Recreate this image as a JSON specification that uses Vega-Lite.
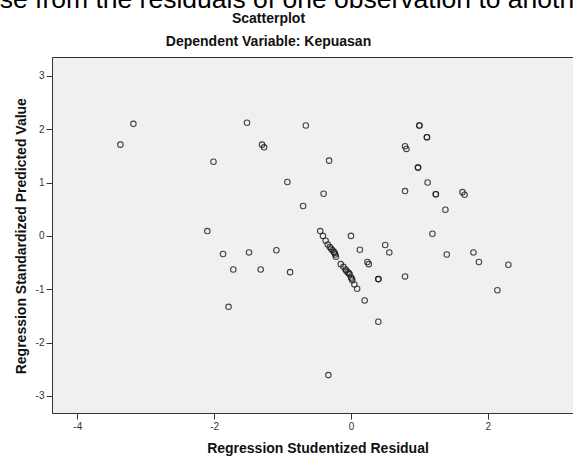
{
  "$schema": "https://vega.github.io/schema/vega-lite/v6.json",
  "width": 521,
  "height": 356,
  "autosize": "none",
  "padding": {"left": 52, "top": 57, "right": 0, "bottom": 43},
  "background": "white",
  "config": {
    "view": {"fill": "#f0f0f0", "stroke": null},
    "font": "Liberation Sans",
    "axis": {
      "grid": false,
      "domainColor": "#333333",
      "domainWidth": 1,
      "tickColor": "#333333",
      "tickSize": 6,
      "labelFont": "Liberation Sans",
      "labelFontSize": 10,
      "labelColor": "#333333",
      "labelPadding": 2,
      "titleFont": "Liberation Sans",
      "titleFontSize": 14,
      "titleFontWeight": "bold",
      "titleColor": "#111111"
    }
  },
  "title": {
    "text": "fause from the residuals of one observation to anoth",
    "font": "Liberation Sans",
    "fontSize": 26.5,
    "fontWeight": "normal",
    "color": "#000000",
    "anchor": "middle",
    "frame": "group",
    "dx": -44,
    "offset": 8,
    "subtitle": ["Scatterplot", "Dependent Variable: Kepuasan"],
    "subtitleFont": "Liberation Sans",
    "subtitleFontSize": 14,
    "subtitleFontWeight": "bold",
    "subtitleColor": "#111111",
    "subtitleLineHeight": 23,
    "subtitlePadding": -1
  },
  "data": {
    "values": [
      {"residual": -3.18, "predicted": 2.10},
      {"residual": -3.37, "predicted": 1.71},
      {"residual": -2.01, "predicted": 1.39},
      {"residual": -1.52, "predicted": 2.12},
      {"residual": -1.30, "predicted": 1.71},
      {"residual": -1.27, "predicted": 1.66},
      {"residual": -0.93, "predicted": 1.01},
      {"residual": -2.10, "predicted": 0.09},
      {"residual": -1.87, "predicted": -0.34},
      {"residual": -1.49, "predicted": -0.31},
      {"residual": -1.09, "predicted": -0.27},
      {"residual": -1.72, "predicted": -0.63},
      {"residual": -1.32, "predicted": -0.63},
      {"residual": -0.89, "predicted": -0.68},
      {"residual": -1.79, "predicted": -1.33},
      {"residual": -0.66, "predicted": 2.07},
      {"residual": -0.32, "predicted": 1.41},
      {"residual": -0.40, "predicted": 0.79},
      {"residual": -0.70, "predicted": 0.56},
      {"residual": 0.00, "predicted": 0.00},
      {"residual": 1.00, "predicted": 2.07},
      {"residual": 1.00, "predicted": 2.07},
      {"residual": 1.11, "predicted": 1.85},
      {"residual": 1.11, "predicted": 1.85},
      {"residual": 0.79, "predicted": 1.68},
      {"residual": 0.81, "predicted": 1.63},
      {"residual": 0.98, "predicted": 1.28},
      {"residual": 0.98, "predicted": 1.28},
      {"residual": 1.12, "predicted": 1.00},
      {"residual": 0.79, "predicted": 0.84},
      {"residual": 1.24, "predicted": 0.78},
      {"residual": 1.24, "predicted": 0.78},
      {"residual": 1.63, "predicted": 0.82},
      {"residual": 1.66, "predicted": 0.77},
      {"residual": 1.38, "predicted": 0.49},
      {"residual": 1.19, "predicted": 0.04},
      {"residual": 0.13, "predicted": -0.26},
      {"residual": 0.50, "predicted": -0.17},
      {"residual": 0.56, "predicted": -0.31},
      {"residual": 1.40, "predicted": -0.35},
      {"residual": 1.79, "predicted": -0.31},
      {"residual": 1.87, "predicted": -0.49},
      {"residual": 2.30, "predicted": -0.54},
      {"residual": 2.14, "predicted": -1.02},
      {"residual": 0.79, "predicted": -0.76},
      {"residual": 0.40, "predicted": -0.81},
      {"residual": 0.40, "predicted": -0.81},
      {"residual": 0.24, "predicted": -0.49},
      {"residual": 0.26, "predicted": -0.53},
      {"residual": 0.20, "predicted": -1.21},
      {"residual": 0.40, "predicted": -1.61},
      {"residual": -0.33, "predicted": -2.61},
      {"residual": -0.45, "predicted": 0.09},
      {"residual": -0.41, "predicted": 0.00},
      {"residual": -0.37, "predicted": -0.09},
      {"residual": -0.34, "predicted": -0.16},
      {"residual": -0.31, "predicted": -0.21},
      {"residual": -0.29, "predicted": -0.24},
      {"residual": -0.27, "predicted": -0.27},
      {"residual": -0.25, "predicted": -0.30},
      {"residual": -0.24, "predicted": -0.32},
      {"residual": -0.23, "predicted": -0.35},
      {"residual": -0.22, "predicted": -0.39},
      {"residual": -0.15, "predicted": -0.53},
      {"residual": -0.11, "predicted": -0.58},
      {"residual": -0.08, "predicted": -0.63},
      {"residual": -0.07, "predicted": -0.65},
      {"residual": -0.05, "predicted": -0.68},
      {"residual": -0.03, "predicted": -0.70},
      {"residual": -0.02, "predicted": -0.72},
      {"residual": 0.00, "predicted": -0.78},
      {"residual": 0.01, "predicted": -0.80},
      {"residual": 0.02, "predicted": -0.83},
      {"residual": 0.05, "predicted": -0.91},
      {"residual": 0.09, "predicted": -0.99}
    ]
  },
  "layer": [
    {
      "mark": {"type": "point", "shape": "circle", "filled": false, "size": 30, "stroke": "#1a1a1a", "strokeWidth": 1.1, "opacity": 0.8},
      "encoding": {
        "x": {
          "field": "residual", "type": "quantitative",
          "scale": {"domain": [-4.37, 3.245], "nice": false, "zero": false},
          "axis": {"orient": "bottom", "values": [-4, -2, 0, 2], "format": "d", "labelExpr": "replace(datum.label, '\u2212', '-')", "title": "Regression Studentized Residual", "titleX": 265.5, "titleY": 39.5, "titleAlign": "center", "titleBaseline": "alphabetic"}
        },
        "y": {
          "field": "predicted", "type": "quantitative",
          "scale": {"domain": [-3.32, 3.353], "nice": false, "zero": false},
          "axis": {"values": [-3, -2, -1, 0, 1, 2, 3], "format": "d", "labelExpr": "replace(datum.label, '\u2212', '-')", "title": "Regression Standardized Predicted Value", "titleAngle": 270, "titleX": -27, "titleY": 178.7, "titleAlign": "center", "titleBaseline": "alphabetic"}
        }
      }
    },
    {
      "mark": {"type": "point", "opacity": 0},
      "encoding": {
        "x": {
          "field": "residual", "type": "quantitative",
          "axis": {"orient": "top", "labels": false, "ticks": false, "title": null, "domain": true}
        },
        "y": {"field": "predicted", "type": "quantitative"}
      }
    }
  ],
  "resolve": {"axis": {"x": "independent"}}
}
